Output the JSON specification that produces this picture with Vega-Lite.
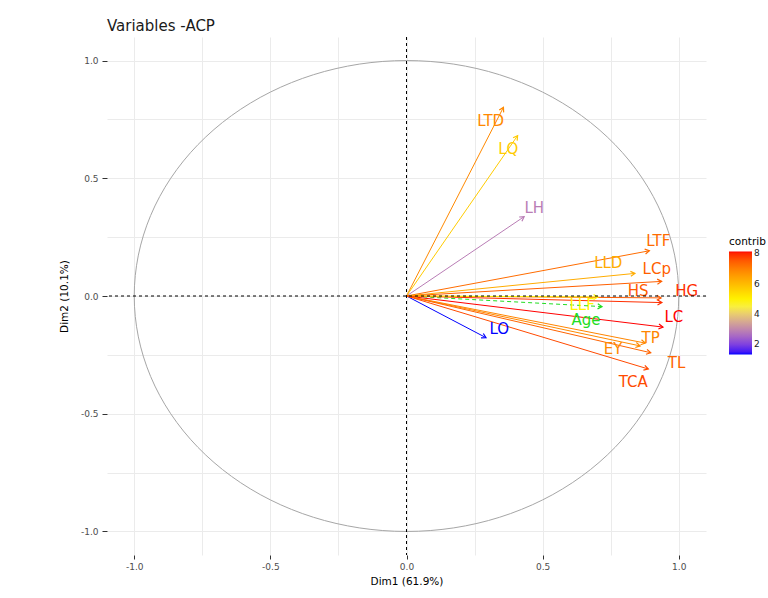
{
  "$schema": "https://vega.github.io/schema/vega-lite/v6.json",
  "width": 599,
  "height": 518,
  "autosize": {"type": "none"},
  "padding": {"left": 107, "top": 37, "right": 62, "bottom": 43},
  "background": "white",
  "title": {"text": "Variables -ACP", "anchor": "start", "frame": "group", "font": "DejaVu Sans", "fontSize": 15, "fontWeight": "normal", "color": "#1a1a1a", "offset": 3},
  "datasets": {
    "circle": [
      {"i": 0, "x": 1, "y": 0}, {"i": 1, "x": 0.9848, "y": 0.1736}, {"i": 2, "x": 0.9397, "y": 0.342}, {"i": 3, "x": 0.866, "y": 0.5},
      {"i": 4, "x": 0.766, "y": 0.6428}, {"i": 5, "x": 0.6428, "y": 0.766}, {"i": 6, "x": 0.5, "y": 0.866}, {"i": 7, "x": 0.342, "y": 0.9397},
      {"i": 8, "x": 0.1736, "y": 0.9848}, {"i": 9, "x": 0, "y": 1}, {"i": 10, "x": -0.1736, "y": 0.9848}, {"i": 11, "x": -0.342, "y": 0.9397},
      {"i": 12, "x": -0.5, "y": 0.866}, {"i": 13, "x": -0.6428, "y": 0.766}, {"i": 14, "x": -0.766, "y": 0.6428}, {"i": 15, "x": -0.866, "y": 0.5},
      {"i": 16, "x": -0.9397, "y": 0.342}, {"i": 17, "x": -0.9848, "y": 0.1736}, {"i": 18, "x": -1, "y": 0}, {"i": 19, "x": -0.9848, "y": -0.1736},
      {"i": 20, "x": -0.9397, "y": -0.342}, {"i": 21, "x": -0.866, "y": -0.5}, {"i": 22, "x": -0.766, "y": -0.6428}, {"i": 23, "x": -0.6428, "y": -0.766},
      {"i": 24, "x": -0.5, "y": -0.866}, {"i": 25, "x": -0.342, "y": -0.9397}, {"i": 26, "x": -0.1736, "y": -0.9848}, {"i": 27, "x": 0, "y": -1},
      {"i": 28, "x": 0.1736, "y": -0.9848}, {"i": 29, "x": 0.342, "y": -0.9397}, {"i": 30, "x": 0.5, "y": -0.866}, {"i": 31, "x": 0.6428, "y": -0.766},
      {"i": 32, "x": 0.766, "y": -0.6428}, {"i": 33, "x": 0.866, "y": -0.5}, {"i": 34, "x": 0.9397, "y": -0.342}, {"i": 35, "x": 0.9848, "y": -0.1736}
    ],
    "vars": [
      {"name": "LTD", "x": 0.356, "y": 0.801, "lx": 0.309, "ly": 0.742, "contrib": 6.84},
      {"name": "LQ", "x": 0.408, "y": 0.681, "lx": 0.374, "ly": 0.625, "contrib": 5.7},
      {"name": "LH", "x": 0.432, "y": 0.337, "lx": 0.469, "ly": 0.372, "contrib": 2.86},
      {"name": "LTF", "x": 0.892, "y": 0.192, "lx": 0.925, "ly": 0.235, "contrib": 7.28},
      {"name": "LLD", "x": 0.839, "y": 0.096, "lx": 0.741, "ly": 0.141, "contrib": 6.26},
      {"name": "LCp", "x": 0.937, "y": 0.062, "lx": 0.919, "ly": 0.115, "contrib": 7.45},
      {"name": "HS", "x": 0.935, "y": -0.008, "lx": 0.851, "ly": 0.023, "contrib": 7.5},
      {"name": "HG", "x": 0.938, "y": -0.028, "lx": 1.029, "ly": 0.021, "contrib": 7.95},
      {"name": "LLF", "x": 0.703, "y": -0.004, "lx": 0.645, "ly": -0.038, "contrib": 4.9},
      {"name": "LC", "x": 0.942, "y": -0.132, "lx": 0.982, "ly": -0.088, "contrib": 8.13},
      {"name": "LO", "x": 0.292, "y": -0.177, "lx": 0.341, "ly": -0.141, "contrib": 1.33},
      {"name": "TP", "x": 0.877, "y": -0.2, "lx": 0.897, "ly": -0.178, "contrib": 6.9},
      {"name": "EY", "x": 0.858, "y": -0.212, "lx": 0.759, "ly": -0.227, "contrib": 6.84},
      {"name": "TL", "x": 0.897, "y": -0.241, "lx": 0.992, "ly": -0.283, "contrib": 7.4},
      {"name": "TCA", "x": 0.888, "y": -0.31, "lx": 0.833, "ly": -0.365, "contrib": 7.7}
    ],
    "sup": [
      {"name": "Age", "x": 0.718, "y": -0.045, "lx": 0.659, "ly": -0.1}
    ]
  },
  "layer": [
    {
      "data": {"name": "circle"},
      "mark": {"type": "line", "interpolate": "cardinal-closed", "color": "#A6A6A6", "strokeWidth": 1},
      "encoding": {
        "x": {"field": "x", "type": "quantitative", "title": "Dim1 (61.9%)",
          "scale": {"domain": [-1.1, 1.1], "nice": false, "zero": false},
          "axis": {"grid": true, "values": [-1, -0.75, -0.5, -0.25, 0, 0.25, 0.5, 0.75, 1],
            "labelExpr": "abs(datum.value*2 - round(datum.value*2)) < 0.001 ? replace(format(datum.value, '.1f'), '\u2212', '-') : ''",
            "tickOpacity": {"condition": {"test": "abs(datum.value*2 - round(datum.value*2)) > 0.001", "value": 0}, "value": 1},
            "tickSize": 4, "labelPadding": 3, "titlePadding": 5, "labelFlush": false}},
        "y": {"field": "y", "type": "quantitative", "title": "Dim2 (10.1%)",
          "scale": {"domain": [-1.1, 1.1], "nice": false, "zero": false},
          "axis": {"grid": true, "values": [-1, -0.75, -0.5, -0.25, 0, 0.25, 0.5, 0.75, 1],
            "labelExpr": "abs(datum.value*2 - round(datum.value*2)) < 0.001 ? replace(format(datum.value, '.1f'), '\u2212', '-') : ''",
            "tickOpacity": {"condition": {"test": "abs(datum.value*2 - round(datum.value*2)) > 0.001", "value": 0}, "value": 1},
            "tickSize": 5, "labelPadding": 4, "titlePadding": 11, "labelFlush": false}},
        "order": {"field": "i", "type": "quantitative"}
      }
    },
    {
      "data": {"name": "sup"},
      "mark": {"type": "rule", "color": "#22DD22", "strokeWidth": 1, "strokeDash": [4, 3]},
      "encoding": {
        "x": {"field": "x", "type": "quantitative", "title": "Dim1 (61.9%)"},
        "x2": {"datum": 0},
        "y": {"field": "y", "type": "quantitative", "title": "Dim2 (10.1%)"},
        "y2": {"datum": 0}
      }
    },
    {
      "data": {"name": "vars"},
      "mark": {"type": "rule", "strokeWidth": 1},
      "encoding": {
        "x": {"field": "x", "type": "quantitative", "title": "Dim1 (61.9%)"},
        "x2": {"datum": 0},
        "y": {"field": "y", "type": "quantitative", "title": "Dim2 (10.1%)"},
        "y2": {"datum": 0},
        "stroke": {"field": "contrib", "type": "quantitative",
          "scale": {"domain": [1.3301, 4.73, 8.1301], "range": ["#0000FF", "#FFFF00", "#FF0000"], "interpolate": "lab"},
          "legend": null}
      }
    },
    {
      "data": {"name": "sup"},
      "transform": [{"calculate": "atan2(datum.x * 272.27, datum.y * 235.45) * 180 / PI", "as": "angle"}],
      "mark": {"type": "point", "shape": "M-0.5,0.866L0,0L0.5,0.866", "filled": false, "strokeWidth": 1.2, "size": 100, "opacity": 1, "color": "#22DD22"},
      "encoding": {
        "x": {"field": "x", "type": "quantitative", "title": "Dim1 (61.9%)"},
        "y": {"field": "y", "type": "quantitative", "title": "Dim2 (10.1%)"},
        "angle": {"field": "angle", "type": "quantitative", "scale": null}
      }
    },
    {
      "data": {"name": "vars"},
      "transform": [{"calculate": "atan2(datum.x * 272.27, datum.y * 235.45) * 180 / PI", "as": "angle"}],
      "mark": {"type": "point", "shape": "M-0.5,0.866L0,0L0.5,0.866", "filled": false, "strokeWidth": 1.2, "size": 100, "opacity": 1},
      "encoding": {
        "x": {"field": "x", "type": "quantitative", "title": "Dim1 (61.9%)"},
        "y": {"field": "y", "type": "quantitative", "title": "Dim2 (10.1%)"},
        "angle": {"field": "angle", "type": "quantitative", "scale": null},
        "stroke": {"field": "contrib", "type": "quantitative",
          "scale": {"domain": [1.3301, 4.73, 8.1301], "range": ["#0000FF", "#FFFF00", "#FF0000"], "interpolate": "lab"},
          "legend": null}
      }
    },
    {
      "data": {"name": "vars"},
      "mark": {"type": "text", "font": "DejaVu Sans", "fontSize": 15, "align": "center", "baseline": "middle"},
      "encoding": {
        "x": {"field": "lx", "type": "quantitative", "title": "Dim1 (61.9%)"},
        "y": {"field": "ly", "type": "quantitative", "title": "Dim2 (10.1%)"},
        "text": {"field": "name"},
        "fill": {"field": "contrib", "type": "quantitative",
          "scale": {"domain": [1.33, 4.73, 8.13], "range": ["#0000FF", "#FFFF00", "#FF0000"], "interpolate": "lab"},
          "legend": {"type": "gradient", "title": "contrib", "orient": "none", "legendX": 622, "legendY": 200, "direction": "vertical",
            "values": [2, 4, 6, 8], "gradientLength": 103, "gradientThickness": 23, "gradientStrokeWidth": 0}}
      }
    },
    {
      "data": {"name": "sup"},
      "mark": {"type": "text", "font": "DejaVu Sans", "fontSize": 15, "align": "center", "baseline": "middle", "color": "#22DD22"},
      "encoding": {
        "x": {"field": "lx", "type": "quantitative", "title": "Dim1 (61.9%)"},
        "y": {"field": "ly", "type": "quantitative", "title": "Dim2 (10.1%)"},
        "text": {"field": "name"}
      }
    },
    {
      "data": {"values": [{}]},
      "mark": {"type": "rule", "color": "black", "strokeWidth": 1, "strokeDash": [3, 3]},
      "encoding": {"y": {"datum": 0}}
    },
    {
      "data": {"values": [{}]},
      "mark": {"type": "rule", "color": "black", "strokeWidth": 1, "strokeDash": [3, 3]},
      "encoding": {"x": {"datum": 0}}
    }
  ],
  "config": {
    "view": {"stroke": null},
    "axis": {"domain": false, "gridColor": "#EBEBEB", "gridWidth": 1, "tickColor": "#333333", "tickWidth": 1,
      "labelFont": "DejaVu Sans", "labelFontSize": 9, "labelColor": "#4D4D4D",
      "titleFont": "DejaVu Sans", "titleFontSize": 10.5, "titleFontWeight": "normal", "titleColor": "#000000"},
    "legend": {"titleFont": "DejaVu Sans", "titleFontSize": 10.5, "titleFontWeight": "normal", "titleColor": "#000000", "titlePadding": 4,
      "labelFont": "DejaVu Sans", "labelFontSize": 9, "labelColor": "#222222", "labelOffset": 5}
  }
}
